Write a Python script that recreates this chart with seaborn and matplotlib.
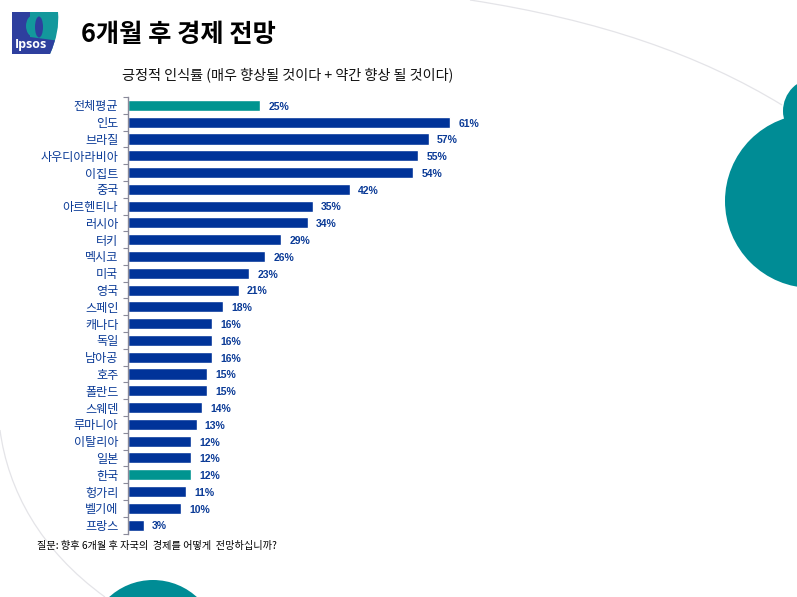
import numpy as np
import pandas as pd
import matplotlib.pyplot as plt
import seaborn as sns
from matplotlib.patches import Circle, Ellipse, PathPatch
from matplotlib.path import Path

countries = ['전체평균', '인도', '브라질', '사우디아라비아', '이집트', '중국', '아르헨티나', '러시아', '터키',
             '멕시코', '미국', '영국', '스페인', '캐나다', '독일', '남아공', '호주', '폴란드', '스웨덴',
             '루마니아', '이탈리아', '일본', '한국', '헝가리', '벨기에', '프랑스']
values = [25, 61, 57, 55, 54, 42, 35, 34, 29, 26, 23, 21, 18, 16, 16, 16, 15, 15, 14, 13, 12, 12, 12, 11, 10, 3]
highlight = ['전체평균', '한국']

NAVY = '#003399'
TEAL = '#009490'
CIRCLE = '#008C95'
LABEL = '#0A3A96'
LOGO_BLUE = '#2E3F9E'
LOGO_TEAL = '#13989C'

sns.set_theme(style='white')
plt.rcParams['font.family'] = ['Noto Sans CJK KR', 'DejaVu Sans']

W, H = 797, 597
fig = plt.figure(figsize=(W / 100, H / 100), dpi=100, facecolor='white')

# 배경 장식 (픽셀 좌표)
bg = fig.add_axes([0, 0, 1, 1], zorder=0)
bg.set_xlim(0, W)
bg.set_ylim(H, 0)
bg.axis('off')
bg.add_patch(Circle((816, 111), 33, color=CIRCLE, lw=0))
bg.add_patch(Circle((812, 201), 87, color=CIRCLE, lw=0))
bg.add_patch(Circle((153, 645), 65, color=CIRCLE, lw=0))
curve = [Path.MOVETO, Path.CURVE4, Path.CURVE4, Path.CURVE4]
for arc in (Path([(470, 0), (600, 20), (700, 55), (782, 105)], curve),
            Path([(0, 430), (8, 490), (40, 550), (105, 597)], curve)):
    bg.add_patch(PathPatch(arc, fc='none', ec='#E4E4E8', lw=0.9))

# 로고
logo_path = Path([(12, 12), (58, 12), (60, 32), (50, 54), (12, 54), (12, 12)],
                 [Path.MOVETO, Path.LINETO, Path.CURVE3, Path.CURVE3, Path.LINETO, Path.CLOSEPOLY])
logo = PathPatch(logo_path, fc=LOGO_TEAL, ec='none', zorder=1)
bg.add_patch(logo)
blue_path = Path([(12, 12), (30, 12), (30, 37), (60, 41), (60, 54), (12, 54), (12, 12)])
blue = PathPatch(blue_path, fc=LOGO_BLUE, ec='none', zorder=1.2)
bg.add_patch(blue)
blue.set_clip_path(logo)
bg.add_patch(Ellipse((33, 26), 14, 21, fc=LOGO_TEAL, ec='none', zorder=1.4))
bg.add_patch(Ellipse((39, 27), 8, 21, fc=LOGO_BLUE, ec='none', zorder=1.6))
bg.text(31, 44.5, 'Ipsos', color='white', fontsize=9, fontweight='bold', ha='center', va='center', zorder=3,
        family=['Open Sans', 'DejaVu Sans'])

bg.text(81, 34.5, '6개월 후 경제 전망', color='black', fontsize=18.2, fontweight='bold', va='center')
bg.text(122, 74.5, '긍정적 인식률 (매우 향상될 것이다 + 약간 향상 될 것이다)', color='#111111', fontsize=10.2,
        fontweight='medium', va='center')
bg.text(37, 546, '질문: 향후 6개월 후 자국의  경제를 어떻게  전망하십니까?', color='black', fontsize=7.3,
        fontweight='medium', va='center')

# 막대 차트
df = pd.DataFrame({'country': countries, 'value': values})
palette = {c: (TEAL if c in highlight else NAVY) for c in countries}

ax = fig.add_axes([128 / W, 1 - 533.5 / H, 400 / W, 436.5 / H], zorder=1)
ax.patch.set_alpha(0)
sns.barplot(data=df, y='country', x='value', hue='country', palette=palette, legend=False,
            width=0.66, saturation=1, ax=ax)
ax.set_xlim(0, 400 / 5.28)
ax.set_ylim(len(countries) - 0.5, -0.5)
ax.set_xlabel('')
ax.set_ylabel('')
ax.xaxis.set_visible(False)
sns.despine(ax=ax, left=False, top=True, right=True, bottom=True)
ax.spines['left'].set_color('#8A8A9A')
ax.spines['left'].set_linewidth(1)

ax.set_yticks(np.arange(len(countries)), countries, fontweight='medium')
ax.set_yticks(np.arange(len(countries) + 1) - 0.5, minor=True)
ax.tick_params(axis='y', which='major', length=0, pad=7, labelsize=8.7, labelcolor=LABEL)
ax.tick_params(axis='y', which='minor', left=True, length=3.5, width=0.8, color='#8A8A9A')

for i, v in enumerate(values):
    ax.text(v + 1.55, i + 0.08, f'{v}%', color=LABEL, fontsize=7.5, fontweight='bold', va='center', ha='left',
            family=['Liberation Sans', 'DejaVu Sans'])

fig.savefig('out.png', dpi=100, facecolor='white')
